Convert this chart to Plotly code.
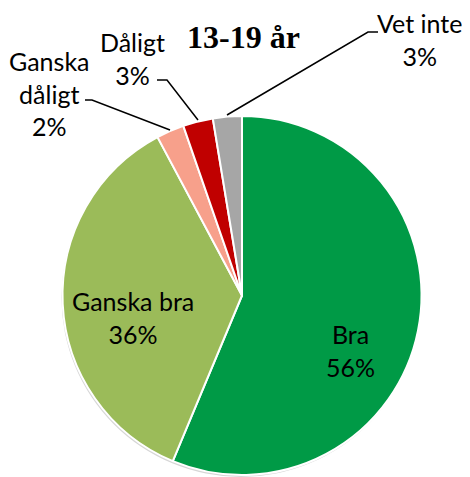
import plotly.graph_objects as go

# The page body adds an 8px margin, so the figure is drawn from (8, 8).
OFF = 8
W, H = 462, 469

# Data
categories = ["Bra", "Ganska bra", "Ganska dåligt", "Dåligt", "Vet inte"]
values = [56.3, 35.9, 2.5, 2.7, 2.6]
pct_labels = ["56%", "36%", "2%", "3%", "3%"]
label_lines = ["Bra", "Ganska bra", "Ganska<br>dåligt", "Dåligt", "Vet inte"]
colors = ["#009A46", "#9BBB59", "#F7A08B", "#C00000", "#A6A6A6"]
title_text = "13-19 år"

def px(x):
    return min(max((x - OFF) / W, 0), 1)

def py(y):
    return min(max(1 - (y - OFF) / H, 0), 1)

# pie geometry (reference pixels)
cx, cy, r = 242, 295.5, 179.5

fig = go.Figure()

# soft shadow disk
sx, sy = cx - 1, cy + 2
fig.add_trace(go.Pie(
    values=[1], marker=dict(colors=["#D6D6D6"], line=dict(width=0)),
    textinfo="none", hoverinfo="skip", showlegend=False, sort=False,
    domain=dict(x=[px(sx - r), px(sx + r)], y=[py(sy + r), py(sy - r)]),
))

fig.add_trace(go.Pie(
    labels=categories, values=values, sort=False, direction="clockwise", rotation=0,
    marker=dict(colors=colors, line=dict(color="white", width=2)),
    textinfo="none", showlegend=False,
    domain=dict(x=[px(cx - r), px(cx + r)], y=[py(cy + r), py(cy - r)]),
))

font = dict(family="Lato, Liberation Sans, sans-serif", size=25, color="black")

# label positions (reference pixel centres)
label_pos = [(350, 350), (133, 317), (49, 94), (132, 58), (419, 39)]
for name, pct, (x, y) in zip(label_lines, pct_labels, label_pos):
    fig.add_annotation(x=px(x), y=py(y), xref="paper", yref="paper",
                       text=f"{name}<br>{pct}", showarrow=False, font=font,
                       xanchor="center", yanchor="middle", align="center")

# leader lines
leaders = [
    [(85, 100), (92, 100), (170, 130)],
    [(157, 80), (167, 80), (198, 120)],
    [(378, 32), (368, 32), (227, 115)],
]
for pts in leaders:
    path = "M " + " L ".join(f"{px(x)},{py(y)}" for x, y in pts)
    fig.add_shape(type="path", path=path, xref="paper", yref="paper",
                  line=dict(color="black", width=1.5))

fig.add_annotation(x=px(243), y=py(37), xref="paper", yref="paper", text=f"<b>{title_text}</b>",
                   showarrow=False, font=dict(family="Liberation Serif, Times New Roman, serif", size=32, color="black"),
                   xanchor="center", yanchor="middle")

fig.update_layout(width=W, height=H, margin=dict(l=0, r=0, t=0, b=0),
                  paper_bgcolor="white", plot_bgcolor="white")

fig.write_html("out.html")
